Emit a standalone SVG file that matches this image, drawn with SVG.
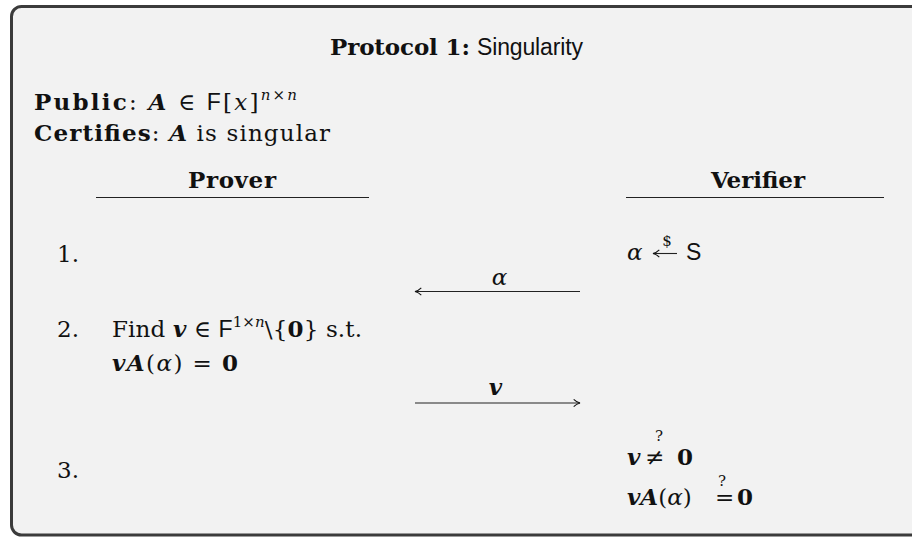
<svg xmlns="http://www.w3.org/2000/svg" width="912" height="538" viewBox="0 0 912 538">
<style>
text{font-family:"DejaVu Serif","Liberation Serif",serif;font-size:23px;fill:#111}
.b{font-weight:bold}
.bi{font-weight:bold;font-style:italic}
.i{font-style:italic}
.sf{font-family:"Liberation Sans","DejaVu Sans",sans-serif;font-size:23px}
.sm{font-size:15px}
.line{stroke:#222;stroke-width:1.1;fill:none}
</style>
<defs>
<marker id="ah" viewBox="0 0 10 10" refX="9" refY="5" markerWidth="9" markerHeight="9" markerUnits="userSpaceOnUse" orient="auto-start-reverse">
<path d="M2,1 Q5,4 9,5 Q5,6 2,9" fill="none" stroke="#111" stroke-width="1.2"/>
</marker>
</defs>
<rect x="0" y="0" width="912" height="538" fill="#ffffff"/>
<rect x="11.5" y="6.5" width="930" height="528.5" rx="10" fill="#f2f2f2" stroke="#3b3b3b" stroke-width="3"/>
<g id="title"><text x="330" y="55" textLength="253"><tspan class="b">Protocol 1:</tspan> <tspan class="sf">Singularity</tspan></text></g>
<g id="public"><text x="34" y="110" textLength="263"><tspan class="b">Public</tspan>: <tspan class="bi">A</tspan> ∈ <tspan class="sf">F</tspan>[<tspan class="i">x</tspan>]<tspan class="i sm" dy="-10">n</tspan><tspan class="sm">×</tspan><tspan class="i sm">n</tspan></text></g>
<g id="certifies"><text x="34" y="141" textLength="296"><tspan class="b">Certifies</tspan>: <tspan class="bi">A</tspan> is singular</text></g>
<g id="prover"><text class="b" x="188" y="188" textLength="88">Prover</text><line class="line" x1="96" y1="197.5" x2="369" y2="197.5"/></g>
<g id="verifier"><text class="b" x="711" y="188" textLength="94">Verifier</text><line class="line" x1="626" y1="197.5" x2="884" y2="197.5"/></g>
<g id="step1"><text x="57" y="262">1.</text>
<text class="i" x="627" y="260">α</text>
<line class="line" x1="677" y1="253.5" x2="653" y2="253.5" marker-end="url(#ah)"/>
<text class="sm" x="667" y="246" text-anchor="middle">$</text>
<text class="sf" x="686" y="260">S</text></g>
<g id="step2"><text x="57" y="337">2.</text>
<text x="112" y="337" textLength="250">Find <tspan class="bi">v</tspan> ∈ <tspan class="sf">F</tspan><tspan class="sm" dy="-10">1×</tspan><tspan class="sm i">n</tspan><tspan dy="10">\{</tspan><tspan class="b">0</tspan>} s.t.</text>
<text x="112" y="371" textLength="126"><tspan class="bi">vA</tspan>(<tspan class="i">α</tspan>) = <tspan class="b">0</tspan></text></g>
<g id="step3"><text x="57" y="478">3.</text>
<text class="bi" x="627" y="465">v</text>
<text x="645" y="465">≠</text>
<text class="b" x="677" y="465">0</text>
<text class="sm" x="659" y="441" text-anchor="middle">?</text>
<text x="627" y="505"><tspan class="bi">vA</tspan>(<tspan class="i">α</tspan>)</text>
<text x="715" y="505">=</text>
<text class="b" x="737" y="505">0</text>
<text class="sm" x="722" y="486" text-anchor="middle">?</text></g>
<g id="connectors">
<line class="line" x1="580" y1="291.5" x2="415" y2="291.5" marker-end="url(#ah)"/>
<text class="i" x="499.5" y="285" text-anchor="middle">α</text>
<line class="line" x1="415" y1="403" x2="580" y2="403" marker-end="url(#ah)"/>
<text class="bi" x="495.5" y="395" text-anchor="middle">v</text>
</g>
</svg>
